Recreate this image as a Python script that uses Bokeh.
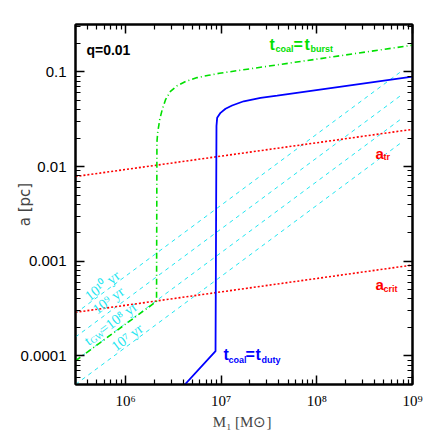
import math
from bokeh.plotting import figure
from bokeh.models import LogAxis, FixedTicker, CustomJSTickFormatter, Range1d
from bokeh.core.properties import value
from bokeh.embed import file_html
from bokeh.resources import INLINE

# ---------------- data ----------------
x_lo, x_hi = 3.0e5, 1.0e9
y_lo, y_hi = 5.0e-5, 0.316

# t_coal = t_burst (green dash-dot)
burst_m = [3.0e5, 2.11e6, 2.13e6, 2.17e6, 2.28e6, 2.42e6, 2.62e6, 2.95e6,
           3.46e6, 4.24e6, 5.61e6, 7.42e6, 9.6e6, 1.0e9]
burst_a = [8.9e-5, 3.77e-4, 0.0181, 0.0229, 0.0315, 0.040, 0.0508, 0.0621,
           0.0713, 0.079, 0.0869, 0.092, 0.0966, 0.191]

# t_coal = t_duty (blue solid)
duty_m = [4.17e6, 8.73e6, 8.93e6, 9.08e6, 9.84e6, 1.11e7, 1.30e7, 1.72e7,
          2.58e7, 3.85e7, 1.0e9]
duty_a = [5.0e-5, 1.125e-4, 0.0268, 0.0327, 0.0369, 0.0407, 0.0441, 0.0489,
          0.053, 0.056, 0.0891]

# a_tr and a_crit (red dotted)
atr_m = [3.0e5, 1.0e9]
atr_a = [0.00785, 0.0247]
acrit_m = [3.0e5, 1.0e9]
acrit_a = [2.89e-4, 9.12e-4]

# t_GW iso-lines (cyan dashed)
gw_names = ["10⁷ yr", "10⁸ yr", "10⁹ yr", "10¹⁰ yr"]
gw_m = [3.0e5, 7.5e8]
gw_a_start = [5.0e-5, 8.91e-5, 1.585e-4, 2.82e-4]
gw_a_end = [0.01766, 0.0315, 0.056, 0.0998]

x_major = [1e6, 1e7, 1e8, 1e9]
y_major = [1e-4, 1e-3, 1e-2, 1e-1]

# ---------------- styling ----------------
GREEN = "#00e000"
BLUE = "#0000ff"
RED = "#ff0000"
CYAN = "#22e6f0"

x_minor = [m * 10.0 ** k for k in range(5, 9) for m in range(2, 10) if x_lo <= m * 10.0 ** k <= x_hi]
y_minor = [m * 10.0 ** k for k in range(-5, 0) for m in range(2, 10) if y_lo <= m * 10.0 ** k <= y_hi]

p = figure(width=428, height=432, x_axis_type="log", y_axis_type="log",
           x_range=Range1d(x_lo, x_hi), y_range=Range1d(y_lo, y_hi),
           output_backend="svg", toolbar_location=None,
           min_border_left=75, min_border_top=24, min_border_right=16, min_border_bottom=44)
p.grid.visible = False
p.outline_line_color = "black"
p.outline_line_width = 2
p.background_fill_color = "white"
p.border_fill_color = "white"

xfmt = CustomJSTickFormatter(code="""
const e = Math.round(Math.log10(tick));
const s = {'0':'⁰','1':'¹','2':'²','3':'³','4':'⁴','5':'⁵','6':'⁶','7':'⁷','8':'⁸','9':'⁹','-':'⁻'};
return '10' + String(e).split('').map(c => s[c]).join('');
""")
yfmt = CustomJSTickFormatter(code="""
const e = Math.round(Math.log10(tick));
if (e >= 0) { return String(Math.round(tick)); }
return '0.' + '0'.repeat(-e - 1) + '1';
""")
blank = CustomJSTickFormatter(code="return '';")

def style_axis(ax):
    ax.major_tick_in = 9
    ax.major_tick_out = 0
    ax.minor_tick_in = 5
    ax.minor_tick_out = 0
    ax.axis_line_width = 2
    ax.axis_line_color = "black"
    ax.major_tick_line_width = 1.5
    ax.minor_tick_line_width = 1.2
    ax.major_tick_line_color = "black"
    ax.minor_tick_line_color = "black"

xa = p.xaxis[0]
xa.ticker = FixedTicker(ticks=x_major, minor_ticks=x_minor)
xa.formatter = xfmt
style_axis(xa)
xa.major_label_text_font = "Liberation Serif"
xa.major_label_text_font_size = "15px"
xa.major_label_text_color = "black"
xa.major_label_standoff = 8
xa.axis_label = "M₁  [M⊙]"
xa.axis_label_text_font = "Liberation Serif"
xa.axis_label_text_font_style = "normal"
xa.axis_label_text_font_size = "15px"
xa.axis_label_standoff = 2

ya = p.yaxis[0]
ya.ticker = FixedTicker(ticks=y_major, minor_ticks=y_minor)
ya.formatter = yfmt
style_axis(ya)
ya.major_label_text_font = "Liberation Sans"
ya.major_label_text_font_size = "15px"
ya.major_label_text_color = "black"
ya.major_label_standoff = 9
ya.axis_label = "a [pc]"
ya.axis_label_text_font = "DejaVu Sans"
ya.axis_label_text_font_style = "normal"
ya.axis_label_text_font_size = "15px"
ya.axis_label_standoff = -16

top = LogAxis(ticker=FixedTicker(ticks=x_major, minor_ticks=x_minor), formatter=blank,
              major_label_text_font_size="0px", major_label_standoff=0)
style_axis(top)
p.add_layout(top, "above")
right = LogAxis(ticker=FixedTicker(ticks=y_major, minor_ticks=y_minor), formatter=blank,
                major_label_text_font_size="0px", major_label_standoff=0)
style_axis(right)
p.add_layout(right, "right")

# ---------------- lines ----------------
p.multi_line(xs=[gw_m for _ in gw_names],
             ys=[[s, e] for s, e in zip(gw_a_start, gw_a_end)],
             line_color=CYAN, line_width=1, line_dash="4 4")
p.line(atr_m, atr_a, line_color=RED, line_width=1.6, line_dash="2 2")
p.line(acrit_m, acrit_a, line_color=RED, line_width=1.6, line_dash="2 2")
p.line(burst_m, burst_a, line_color=GREEN, line_width=1.6, line_dash="6 3 1 3")
p.line(duty_m, duty_a, line_color=BLUE, line_width=1.8)

# ---------------- texts ----------------
def pieces(x, y, parts, color, font="Liberation Sans", style="bold", angle=0.0):
    for txt, size, dx, dy in parts:
        p.text(x=[x], y=[y], text=[txt], x_offset=dx, y_offset=dy, angle=angle,
               text_color=color, text_font=value(font), text_font_style=style,
               text_font_size=f"{size}px", text_align="left", text_baseline="alphabetic")

pieces(3.9e5, 0.1692, [("q=0.01", 14, 0, 0)], "black")
pieces(3.2e7, 0.1954, [("t", 16, 0, 0), ("coal", 9, 6, 5), ("=", 16, 24, 0),
                       ("t", 16, 35, 0), ("burst", 9, 41, 5)], GREEN)
pieces(1.057e7, 1.029e-4, [("t", 16, 0, 0), ("coal", 9, 5, 5), ("=", 16, 22, 0),
                           ("t", 16, 32, 0), ("duty", 9, 38, 5)], BLUE)
pieces(4.1e8, 0.0139, [("a", 15, 0, 0), ("tr", 9, 8, 4)], RED)
pieces(4.1e8, 5.67e-4, [("a", 15, 0, 0), ("crit", 9, 8, 4)], RED)

th = math.atan(0.751)
c, s = math.cos(th), math.sin(th)
def rot(along, down):
    return along * c + down * s, -along * s + down * c

serif = "Liberation Serif"
FS = 14.5
pieces(3.9e5, 4.15e-4, [(gw_names[3], FS, 0, 0)], CYAN, serif, "normal", th)
pieces(4.7e5, 3.01e-4, [(gw_names[2], FS, 0, 0)], CYAN, serif, "normal", th)
dx1, dy1 = rot(4.5, 3)
dx2, dy2 = rot(18.5, 0)
pieces(3.85e5, 1.406e-4, [("t", FS, 0, 0)], CYAN, serif, "normal", th)
pieces(3.85e5, 1.406e-4, [("GW", 9, dx1, dy1)], CYAN, serif, "normal", th)
pieces(3.85e5, 1.406e-4, [("=" + gw_names[1], FS, dx2, dy2)], CYAN, serif, "normal", th)
pieces(7.4e5, 1.219e-4, [(gw_names[0], FS, 0, 0)], CYAN, serif, "normal", th)

open("out.html", "w").write(file_html(p, INLINE))
